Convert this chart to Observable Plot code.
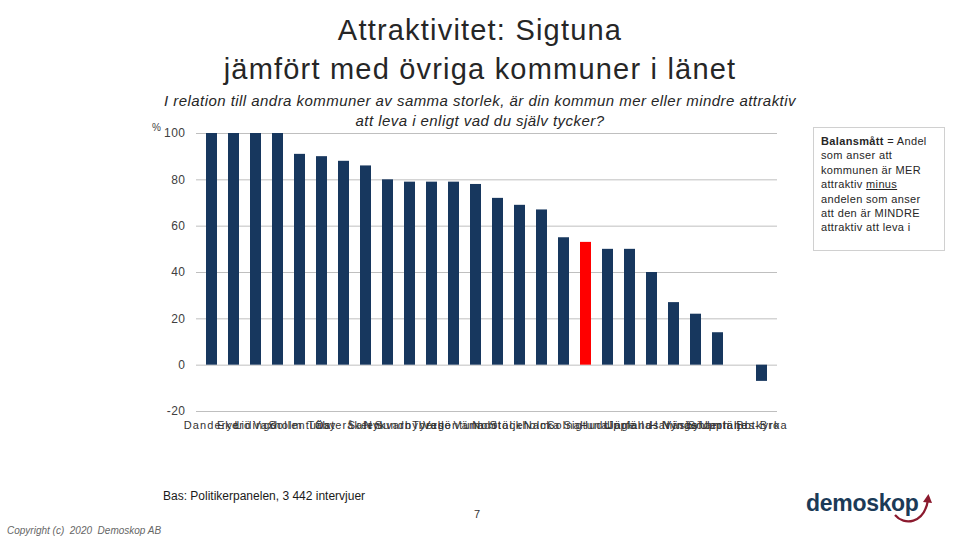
<!DOCTYPE html>
<html><head><meta charset="utf-8">
<script src="https://cdn.jsdelivr.net/npm/d3@7"></script>
<script src="https://cdn.jsdelivr.net/npm/@observablehq/plot@0.6"></script>
<style>
body{margin:0;width:960px;height:540px;position:relative;overflow:hidden;background:#fff;font-family:"Liberation Sans",Arial,sans-serif;}
#chart{position:absolute;left:0;top:0;}
#chart g[aria-label="x-axis tick label"] text{letter-spacing:1.1px;}
#chart g[aria-label="y-axis tick label"] text{letter-spacing:0.5px;}
.abs{position:absolute;}
#title{left:0;width:960px;top:11px;text-align:center;font-size:29px;line-height:39px;color:#262626;letter-spacing:1.2px;}
#subtitle{left:0;width:960px;top:91px;text-align:center;font-size:15px;line-height:20px;font-style:italic;color:#262626;letter-spacing:0.45px;}
#unit{left:152px;top:122px;font-size:10px;color:#404040;}
#box{left:813px;top:127px;width:116px;height:109px;border:1px solid #d0d0d0;padding:6px 7px 7px 7px;font-size:11px;line-height:14.4px;color:#262626;letter-spacing:0.35px;}
#bas{left:163px;top:489px;font-size:12px;color:#1a1a1a;}
#page{left:474px;top:508px;font-size:11px;color:#333;}
#copy{left:7px;top:525px;font-size:10px;font-style:italic;color:#666;}
#logo{left:800px;top:482px;}
</style></head><body>
<div id="chart"></div>
<div id="title" class="abs">Attraktivitet: Sigtuna<br>jämfört med övriga kommuner i länet</div>
<div id="subtitle" class="abs">I relation till andra kommuner av samma storlek, är din kommun mer eller mindre attraktiv<br>att leva i enligt vad du själv tycker?</div>
<div id="unit" class="abs">%</div>
<div id="box" class="abs"><b>Balansmått</b> = Andel som anser att kommunen är MER attraktiv <u>minus</u><br>andelen som anser att den är MINDRE attraktiv att leva i</div>
<div id="bas" class="abs">Bas: Politikerpanelen, 3 442 intervjuer</div>
<div id="page" class="abs">7</div>
<div id="copy" class="abs">Copyright (c)&nbsp; 2020&nbsp; Demoskop AB</div>
<div id="logo" class="abs">
<svg width="150" height="50" viewBox="0 0 150 50">
<text x="6" y="29" font-family="Liberation Sans, Arial, sans-serif" font-weight="bold" font-size="23" fill="#1b3a57" letter-spacing="-0.3">demoskop</text>
<path d="M95 33 C104 44 124 42 128 18" fill="none" stroke="#8b1a2e" stroke-width="2.2"/>
<path d="M123 20 L128.5 12 L132 21 Z" fill="#8b1a2e"/>
</svg>
</div>
<script>
const kommuner = ["Danderyd","Ekerö","Lidingö","Vaxholm","Sollentuna","Täby","Österåker","Salem","Nykvarn","Sundbyberg","Tyresö","Vallentuna","Värmdö","Norrtälje","Stockholm","Nacka","Solna","Sigtuna","Huddinge","Järfälla","Upplands Väsby","Haninge","Nynäshamn","Södertälje","Upplands-Bro","Botkyrka"];
const values = [100,100,100,100,91,90,88,86,80,79,79,79,78,72,69,67,55,53,50,50,40,27,22,14,0,-7];
const highlight = "Sigtuna";
const yTicks = [-20,0,20,40,60,80,100];

const data = kommuner.map((k,i)=>({kommun:k, value:values[i]}));
const chart = Plot.plot({
  width:960, height:540,
  marginTop:133, marginBottom:129, marginLeft:196, marginRight:183,
  style:{fontFamily:"Liberation Sans, Arial, sans-serif", fontSize:"12px", color:"#404040", background:"transparent"},
  x:{domain:kommuner, paddingInner:0.5, paddingOuter:0.25, label:null},
  y:{domain:[-20,100], label:null},
  color:{type:"identity"},
  marks:[
    Plot.ruleY(yTicks, {stroke:"#bfbfbf", strokeWidth:1}),
    Plot.barY(data, {x:"kommun", y:"value", fill:d => d.kommun===highlight ? "#ff0000" : "#17375e"}),
    Plot.axisY({ticks:yTicks, tickSize:0, tickPadding:11, fontSize:12, label:null, tickFormat:d=>String(d)}),
    Plot.axisX({tickSize:0, tickPadding:10, fontSize:11, label:null, fill:"#333"})
  ]
});
document.getElementById("chart").appendChild(chart);
</script>
</body></html>
